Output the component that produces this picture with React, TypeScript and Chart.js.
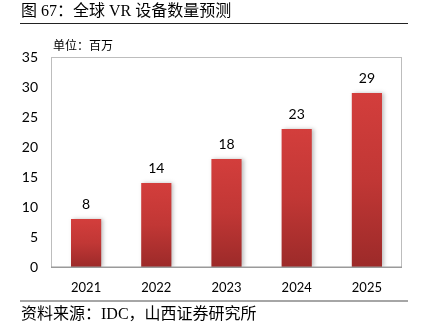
import React, { useEffect, useRef } from "react";
import { Chart, registerables } from "chart.js";

Chart.register(...registerables);

const categories = ["2021", "2022", "2023", "2024", "2025"];
const values = [8, 14, 18, 23, 29];
const yTicks = [0, 5, 10, 15, 20, 25, 30, 35];
const titleText = "图 67：全球 VR 设备数量预测";
const unitText = "单位：百万";
const sourceText = "资料来源：IDC，山西证券研究所";

const SERIF = '"Liberation Serif", "Noto Sans CJK SC", serif';
const SANS = 'Lato, "Liberation Sans", sans-serif';

const decorPlugin = {
  id: "decor",
  beforeDraw(chart: any) {
    const c = chart.ctx;
    c.save();
    c.fillStyle = "#fff";
    c.fillRect(0, 0, chart.width, chart.height);
    c.fillStyle = "#000";
    c.textBaseline = "middle";
    c.textAlign = "left";
    c.font = `16px ${SERIF}`;
    c.fillText(titleText, 21, 12);
    c.strokeStyle = "#222";
    c.lineWidth = 1;
    c.beginPath();
    c.moveTo(20, 23.5);
    c.lineTo(408, 23.5);
    c.stroke();
    c.font = `12px ${SERIF}`;
    c.fillText(unitText, 53, 47);
    c.strokeStyle = "#888";
    c.lineWidth = 1.5;
    c.beginPath();
    c.moveTo(20, 301);
    c.lineTo(408, 301);
    c.stroke();
    c.fillStyle = "#000";
    c.font = `16px ${SERIF}`;
    c.fillText(sourceText, 21, 315);
    const a = chart.chartArea;
    c.strokeStyle = "#bdbdbd";
    c.lineWidth = 1;
    c.strokeRect(Math.round(a.left) + 0.5, Math.round(a.top) + 0.5, Math.round(a.right - a.left) - 1, Math.round(a.bottom - a.top));
    c.restore();
  },
  beforeDatasetsDraw(chart: any) {
    const c = chart.ctx;
    c.save();
    c.shadowColor = "rgba(0,0,0,0.25)";
    c.shadowBlur = 4;
    c.shadowOffsetX = 2;
    c.shadowOffsetY = 0;
  },
  afterDatasetsDraw(chart: any) {
    const c = chart.ctx;
    c.restore();
    const a = chart.chartArea;
    c.save();
    c.strokeStyle = "#9a9a9a";
    c.lineWidth = 1.5;
    c.beginPath();
    c.moveTo(a.left, Math.round(a.bottom) + 0.25);
    c.lineTo(a.right, Math.round(a.bottom) + 0.25);
    c.stroke();
    const meta = chart.getDatasetMeta(0);
    c.fillStyle = "#000";
    c.font = `14px ${SANS}`;
    c.textAlign = "center";
    c.textBaseline = "middle";
    meta.data.forEach((el: any, i: number) => {
      c.fillText(String(values[i]), el.x, el.y - 15);
    });
    c.restore();
  },
};

export default function App() {
  const ref = useRef<HTMLCanvasElement>(null);
  useEffect(() => {
    if (!ref.current) return;
    const chart = new Chart(ref.current, {
      type: "bar",
      data: {
        labels: categories,
        datasets: [
          {
            data: values,
            backgroundColor: (ctx: any) => {
              const chart = ctx.chart;
              const ys = chart.scales?.y;
              if (!ys || ctx.dataIndex === undefined) return "#c83634";
              const top = ys.getPixelForValue(values[ctx.dataIndex]);
              const bottom = ys.getPixelForValue(0);
              if (!isFinite(top) || !isFinite(bottom) || top === bottom) return "#c83634";
              const g = chart.ctx.createLinearGradient(0, top, 0, bottom);
              g.addColorStop(0, "#d33e3c");
              g.addColorStop(0.5, "#c13735");
              g.addColorStop(1, "#9c2a29");
              return g;
            },
            borderWidth: 0,
            categoryPercentage: 1,
            barPercentage: 0.43,
          },
        ],
      },
      options: {
        animation: false,
        responsive: false,
        layout: { padding: { top: 57, right: 21, left: 0, bottom: 0 } },
        plugins: { legend: { display: false }, tooltip: { enabled: false } },
        scales: {
          x: {
            grid: { display: false, drawTicks: false },
            border: { display: false },
            ticks: { color: "#000", font: { family: SANS, size: 13 }, padding: 13 },
            afterFit: (s: any) => {
              s.height = 60;
            },
          },
          y: {
            min: 0,
            max: 35,
            afterBuildTicks: (s: any) => {
              s.ticks = yTicks.map((v) => ({ value: v }));
            },
            grid: { display: false, drawTicks: false },
            border: { display: false },
            ticks: { color: "#000", font: { family: SANS, size: 14 }, padding: 13 },
            afterFit: (s: any) => {
              s.width = 51;
            },
          },
        },
      },
      plugins: [decorPlugin],
    });
    return () => chart.destroy();
  }, []);
  return (
    <div style={{ position: "fixed", left: 0, top: 0, width: 423, height: 327, background: "#fff" }}>
      <canvas ref={ref} width={423} height={327} style={{ display: "block" }} />
    </div>
  );
}
